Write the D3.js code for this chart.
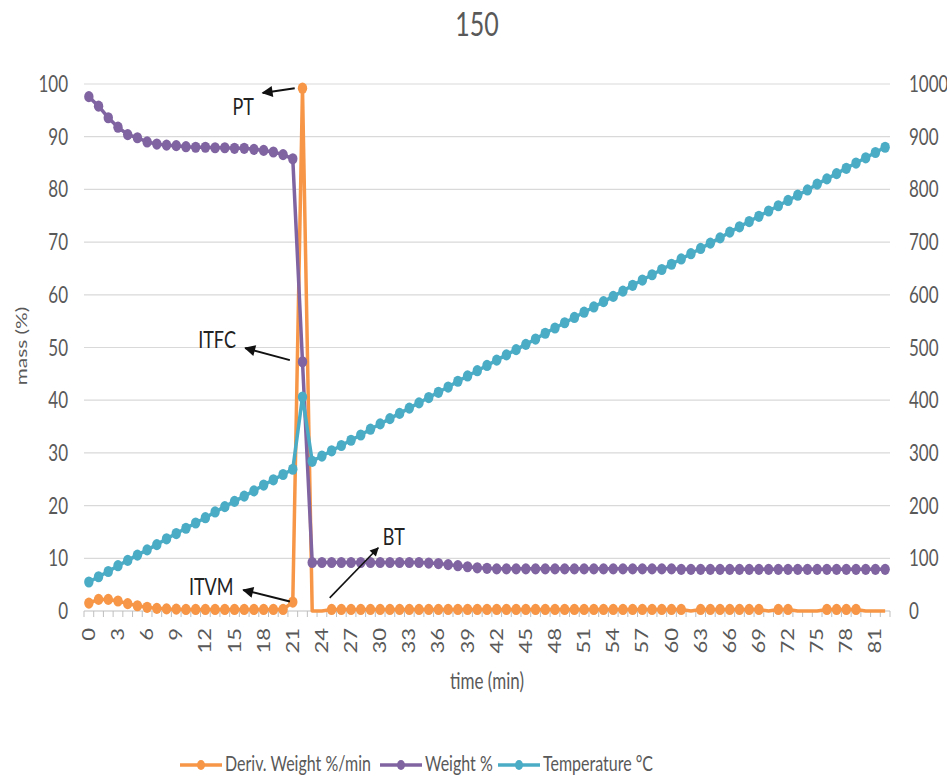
<!DOCTYPE html>
<html>
<head>
<meta charset="utf-8">
<script src="https://cdn.jsdelivr.net/npm/d3@7"></script>
<style>
  html, body { margin: 0; padding: 0; background: #fff; }
  svg { display: block; font-family: Lato, "Open Sans", sans-serif; }
</style>
</head>
<body>
<svg id="chart" width="947" height="778"></svg>
<script>
// Thermogravimetric run "150": mass loss, its derivative and furnace temperature per minute.
const chartTitle = "150";
const timeMin = d3.range(0, 83);
const timeTickEvery = 3;

const derivWeight = [
  1.5, 2.2, 2.2, 1.9, 1.4, 1.0, 0.7, 0.5, 0.4, 0.35,
  0.3, 0.3, 0.3, 0.3, 0.3, 0.3, 0.3, 0.3, 0.3, 0.3,
  0.3, 1.7, 99.2, 0, 0, 0.3, 0.3, 0.3, 0.3, 0.3,
  0.3, 0.3, 0.3, 0.3, 0.3, 0.3, 0.3, 0.3, 0.3, 0.3,
  0.3, 0.3, 0.3, 0.3, 0.3, 0.3, 0.3, 0.3, 0.3, 0.3,
  0.3, 0.3, 0.3, 0.3, 0.3, 0.3, 0.3, 0.3, 0.3, 0.3,
  0.3, 0.3, 0, 0.3, 0.3, 0.3, 0.3, 0.3, 0.3, 0.3,
  0, 0.3, 0.3, 0, 0, 0, 0.3, 0.3, 0.3, 0.3,
  0, 0, 0
];

const weightPct = [
  97.6, 95.8, 93.6, 91.8, 90.4, 89.8, 89.0, 88.6, 88.4, 88.3,
  88.1, 88.0, 88.0, 87.9, 87.9, 87.8, 87.8, 87.6, 87.4, 87.1,
  86.6, 85.8, 47.3, 9.2, 9.2, 9.2, 9.2, 9.2, 9.2, 9.2,
  9.2, 9.2, 9.2, 9.2, 9.2, 9.1, 9.0, 8.8, 8.6, 8.4,
  8.2, 8.1, 8.0, 8.0, 8.0, 8.0, 8.0, 8.0, 8.0, 8.0,
  8.0, 8.0, 8.0, 8.0, 8.0, 8.0, 8.0, 8.0, 8.0, 8.0,
  8.0, 7.9, 7.9, 7.9, 7.9, 7.9, 7.9, 7.9, 7.9, 7.9,
  7.9, 7.9, 7.9, 7.9, 7.9, 7.9, 7.9, 7.9, 7.9, 7.9,
  7.9, 7.9, 7.9
];

const temperatureC = [
  55, 65, 75, 86, 96, 106, 116, 126, 137, 147,
  157, 167, 177, 188, 198, 208, 218, 228, 239, 249,
  259, 269, 406, 284, 294, 304, 314, 324, 334, 345,
  355, 365, 375, 385, 395, 405, 415, 425, 436, 446,
  456, 466, 476, 486, 496, 506, 516, 527, 537, 547,
  557, 567, 577, 587, 597, 607, 618, 628, 638, 648,
  658, 668, 678, 688, 698, 708, 719, 729, 739, 749,
  759, 769, 779, 789, 799, 810, 820, 830, 840, 850,
  860, 870, 880
];

const massTicks = [0, 10, 20, 30, 40, 50, 60, 70, 80, 90, 100];
const tempTicks = [0, 100, 200, 300, 400, 500, 600, 700, 800, 900, 1000];

const seriesNames = ["Deriv. Weight %/min", "Weight %", "Temperature \u00B0C"];

// Callouts: label position and arrow (tail -> head) in data units (minute index, mass %).
const calloutNames = ["PT", "ITFC", "ITVM", "BT"];
const calloutText = [[15.9, 94.1], [13.2, 49.9], [12.6, 3.0], [31.4, 12.5]];
const calloutTail = [[21.2, 99.2], [20.7, 47.6], [20.7, 1.8], [24.8, 2.5]];
const calloutHead = [[17.9, 98.3], [16.1, 49.9], [15.9, 4.0], [29.8, 12.0]];

// ---------------------------------------------------------------
const svg = d3.select("#chart");
const colors = ["#F79646", "#8064A2", "#4BACC6"];
const textColor = "#595959";
const SY = 1.3; // tall, condensed lettering

const plot = { left: 84, right: 890, top: 84, bottom: 611 };

const x = d3.scaleBand().domain(timeMin).range([plot.left, plot.right]).paddingInner(0).paddingOuter(0);
const xc = i => x(i) + x.bandwidth() / 2;
const xi = v => plot.left + (v + 0.5) * x.step();
const yL = d3.scaleLinear().domain([0, 100]).range([plot.bottom, plot.top]);
const yR = d3.scaleLinear().domain([0, 1000]).range([plot.bottom, plot.top]);

function hText(g, str, px, py, size, anchor) {
  return g.append("text")
    .attr("transform", `translate(${px},${py}) scale(1,${SY})`)
    .attr("text-anchor", anchor)
    .attr("font-size", size)
    .attr("fill", textColor)
    .text(str);
}
function vText(g, str, px, py, size, anchor) {
  return g.append("text")
    .attr("transform", `translate(${px},${py}) rotate(-90) scale(${SY},1)`)
    .attr("text-anchor", anchor)
    .attr("font-size", size)
    .attr("fill", textColor)
    .text(str);
}

// Title
hText(svg, chartTitle, 477, 36, 25, "middle");

// Horizontal gridlines
const grid = svg.append("g");
grid.selectAll("line").data(massTicks).join("line")
  .attr("x1", plot.left).attr("x2", plot.right)
  .attr("y1", d => yL(d)).attr("y2", d => yL(d))
  .attr("stroke", d => d === 0 ? "#BFBFBF" : "#D9D9D9")
  .attr("stroke-width", 1.2);

// Left axis labels
const leftAx = svg.append("g");
massTicks.forEach(t => hText(leftAx, String(t), 68, yL(t) + 8, 17, "end"));

// Right axis labels
const rightAx = svg.append("g");
tempTicks.forEach(t => hText(rightAx, String(t), 909, yR(t) + 8, 17, "start"));

// X axis tick marks at category boundaries
const xAx = svg.append("g");
const bounds = timeMin.map(i => x(i)).concat([plot.right]);
xAx.selectAll("line").data(bounds).join("line")
  .attr("x1", d => d).attr("x2", d => d)
  .attr("y1", plot.bottom).attr("y2", plot.bottom + 6)
  .attr("stroke", "#BFBFBF").attr("stroke-width", 1);
timeMin.filter(i => i % timeTickEvery === 0)
  .forEach(i => vText(xAx, String(i), xc(i) + 6, 628, 17, "end"));

// Axis titles
hText(svg, "time (min)", 487, 689, 17, "middle");
vText(svg, "mass (%)", 27, 346, 16, "middle");

// Series
function drawSeries(values, yScale, color, markerIf) {
  const g = svg.append("g");
  const line = d3.line().x((d, i) => xc(i)).y(d => yScale(d));
  g.append("path").datum(values)
    .attr("d", line)
    .attr("fill", "none")
    .attr("stroke", color)
    .attr("stroke-width", 3.5)
    .attr("stroke-linejoin", "round");
  g.selectAll("ellipse")
    .data(values.map((v, i) => ({ v, i })).filter(d => markerIf(d.v)))
    .join("ellipse")
    .attr("cx", d => xc(d.i))
    .attr("cy", d => yScale(d.v))
    .attr("rx", 4.7).attr("ry", 5.6)
    .attr("fill", color);
}
drawSeries(derivWeight, yL, colors[0], v => v > 0);
drawSeries(weightPct, yL, colors[1], () => true);
drawSeries(temperatureC, yR, colors[2], () => true);

// Callouts
const defs = svg.append("defs");
defs.append("marker")
  .attr("id", "arrowhead")
  .attr("viewBox", "0 0 10 10")
  .attr("refX", 9).attr("refY", 5)
  .attr("markerWidth", 6).attr("markerHeight", 5.5)
  .attr("markerUnits", "strokeWidth")
  .attr("orient", "auto")
  .append("path").attr("d", "M0,0 L10,5 L0,10 Z").attr("fill", "#111");

const callouts = svg.append("g");
calloutNames.forEach((name, k) => {
  const [tx, ty] = calloutTail[k];
  const [hx, hy] = calloutHead[k];
  callouts.append("line")
    .attr("x1", xi(tx)).attr("y1", yL(ty))
    .attr("x2", xi(hx)).attr("y2", yL(hy))
    .attr("stroke", "#111")
    .attr("stroke-width", name === "BT" ? 1.6 : 2)
    .attr("marker-end", "url(#arrowhead)");
  hText(callouts, name, xi(calloutText[k][0]), yL(calloutText[k][1]), 18, "middle")
    .attr("fill", "#222");
});

// Legend
const legend = svg.append("g");
const legendItems = [
  { name: seriesNames[0], color: colors[0], x: 180 },
  { name: seriesNames[1], color: colors[1], x: 380 },
  { name: seriesNames[2], color: colors[2], x: 498 }
];
legendItems.forEach(it => {
  legend.append("line")
    .attr("x1", it.x).attr("x2", it.x + 42)
    .attr("y1", 765).attr("y2", 765)
    .attr("stroke", it.color).attr("stroke-width", 3.5);
  legend.append("ellipse")
    .attr("cx", it.x + 21).attr("cy", 765)
    .attr("rx", 4).attr("ry", 5)
    .attr("fill", it.color);
  hText(legend, it.name, it.x + 45, 771, 16, "start");
});
</script>
</body>
</html>
